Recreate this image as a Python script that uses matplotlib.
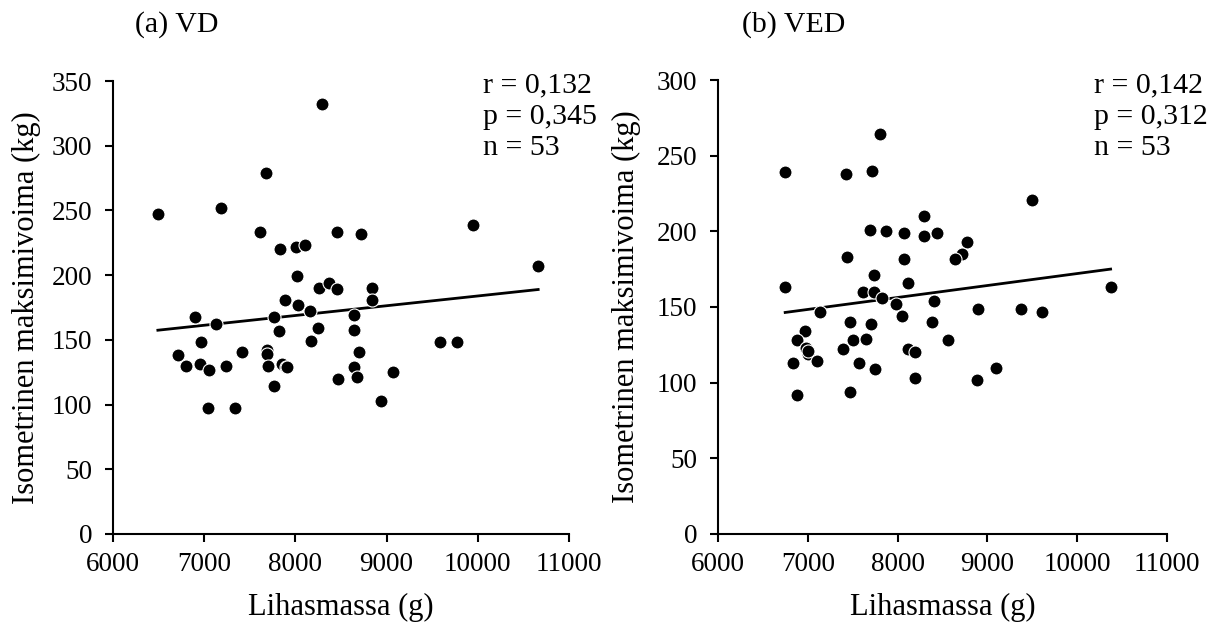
import matplotlib
matplotlib.use("Agg")
import matplotlib.pyplot as plt
import numpy as np

plt.rcParams['font.family'] = ['Liberation Serif', 'DejaVu Serif']

# (a) VD: muscle mass (g) vs isometric max force (kg)
vd_mass = [6492, 8291, 7677, 7181, 7611, 7831, 8006, 8103, 8454, 8722,
           9942, 10662, 8019, 8261, 8366, 8454, 8840, 8840, 7883, 8028,
           8160, 7760, 6900, 7128, 7822, 8248, 8638, 8638, 8173, 6966,
           9587, 9775, 6711, 7418, 7686, 7686, 8700, 6799, 6953, 7049,
           7242, 7699, 7848, 7901, 8638, 8673, 8467, 7765, 9073, 8941,
           7040, 7339, 7905]
vd_force = [247, 332, 279, 252, 233, 220, 222, 223, 233, 232,
            239, 207, 199, 190, 194, 189, 190, 181, 181, 177,
            172, 168, 168, 162, 157, 159, 169, 158, 149, 148,
            148, 148, 138, 141, 142, 139, 141, 130, 131, 127,
            130, 130, 131, 129, 129, 121, 120, 114, 125, 103,
            97, 97, 129]

# (b) VED
ved_mass = [6748, 7425, 7714, 7803, 9495, 8293, 7696, 7874, 8070, 8293,
            8435, 8774, 8716, 8640, 7438, 8070, 7736, 8117, 6748, 10372,
            7616, 7741, 7825, 7981, 8404, 7135, 8048, 8894, 9375, 9606,
            7469, 7705, 8382, 6971, 6882, 7505, 7647, 8560, 6985, 6998,
            7389, 8117, 8193, 6833, 7104, 7572, 7750, 9094, 8193, 8881,
            6877, 7469, 7000]
ved_force = [239, 238, 240, 264, 221, 210, 201, 200, 199, 197,
             199, 193, 185, 182, 183, 182, 171, 166, 163, 163,
             160, 160, 156, 152, 154, 147, 144, 149, 149, 147,
             140, 139, 140, 134, 128, 128, 129, 128, 123, 119,
             122, 122, 120, 113, 114, 113, 109, 110, 103, 102,
             92, 94, 121]

vd_stats = ['r = 0,132', 'p = 0,345', 'n = 53']
ved_stats = ['r = 0,142', 'p = 0,312', 'n = 53']

W, H = 1216, 628

# title, data, stats, ymax, axes rect, title x (px), stats x (px), ylabel x (axes)
panels = [
    ('(a) VD', vd_mass, vd_force, vd_stats, 350, [113 / W, 0.1497, 456 / W, 0.7213], 135, 483, -0.158),
    ('(b) VED', ved_mass, ved_force, ved_stats, 300, [718 / W, 0.1497, 449 / W, 0.7229], 742, 1094, -0.171),
]

fig = plt.figure(figsize=(W / 100, H / 100), dpi=100)

for title, xs, ys, stats, ymax, rect, tx, sx, ylx in panels:
    ax = fig.add_axes(rect)
    xs = np.array(xs)
    ys = np.array(ys)
    ax.scatter(xs, ys, s=88, color='black', edgecolor='white', linewidth=0.8, zorder=3)

    # linear fit
    k, b = np.polyfit(xs, ys, 1)
    xl = np.array([xs.min(), xs.max()])
    ax.plot(xl, k * xl + b, color='black', lw=2, zorder=2)

    ax.set_xlim(6000, 11000)
    ax.set_ylim(0, ymax)
    ax.set_xticks(np.arange(6000, 11001, 1000))
    ax.set_yticks(np.arange(0, ymax + 1, 50))
    for s in ['top', 'right']:
        ax.spines[s].set_visible(False)
    for s in ['left', 'bottom']:
        ax.spines[s].set_linewidth(1.5)
    ax.tick_params(direction='out', length=6, width=1.5, labelsize=19.5)
    ax.tick_params(axis='y', pad=9)
    ax.tick_params(axis='x', pad=7)
    ax.set_xlabel('Lihasmassa (g)', fontsize=22)
    ax.set_ylabel('Isometrinen maksimivoima (kg)', fontsize=22)
    ax.xaxis.set_label_coords(0.5, -0.13)
    ax.yaxis.set_label_coords(ylx, 0.5)

    fig.text(tx / W, 1 - 32 / H, title, fontsize=21.5, va='baseline', ha='left')
    for i, line in enumerate(stats):
        fig.text(sx / W, 1 - (92 + 31.5 * i) / H, line, fontsize=21.5,
                 va='baseline', ha='left')

fig.savefig('out.png', dpi=100)
